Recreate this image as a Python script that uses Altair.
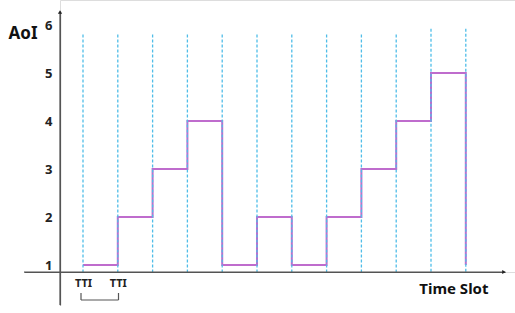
import altair as alt
import pandas as pd

# Data
slots = [0, 1, 2, 3, 4, 5, 6, 7, 8, 9, 10, 11]
dash_tops = [5.8, 5.8, 5.8, 5.8, 5.8, 5.8, 5.8, 5.8, 5.8, 5.8, 5.92, 5.92]
step_x = [0, 1, 2, 3, 4, 5, 6, 7, 8, 9, 10, 11]
aoi_values = [1, 2, 3, 4, 1, 2, 1, 2, 3, 4, 5, 1]
y_ticks = [1, 2, 3, 4, 5, 6]
tti_ticks = [0, 1]

dash_df = pd.DataFrame({"slot": slots, "top": dash_tops})
step_df = pd.DataFrame({"slot": step_x, "aoi": aoi_values})

FONT = "Noto Sans"
AX = "#555555"

xscale = alt.Scale(domain=[-1.6954, 12.1264], range=[-36, 445], nice=False, zero=False)
yscale = alt.Scale(domain=[0.1667, 6.2917], range=[305, 11], nice=False, zero=False)

x_axis = alt.Axis(
    values=tti_ticks, labelExpr="'TTI'", ticks=False, grid=False,
    domainColor=AX, domainWidth=1.2, labelFont=FONT, labelFontSize=11,
    labelFontWeight="bold", labelColor="#222", labelPadding=5,
    title="Time Slot", titleFont=FONT, titleFontSize=15, titleFontWeight="bold",
    titleColor="#111", titleX=428, titleY=21, titleAlign="right",
    titleBaseline="alphabetic", titleAnchor="end",
)
y_axis = alt.Axis(
    values=y_ticks, ticks=False, grid=False, domainColor=AX, domainWidth=1.2,
    labelFont=FONT, labelFontSize=13, labelFontWeight="bold", labelColor="#222",
    labelPadding=8, title="AoI", titleFont=FONT, titleFontSize=17,
    titleFontWeight="bold", titleColor="#111", titleAngle=0, titleX=-52,
    titleY=38, titleAlign="left", titleBaseline="alphabetic",
)

step = alt.Chart(step_df).mark_line(
    interpolate="step-after", color="#B452C4", strokeWidth=2, opacity=0.85
).encode(
    x=alt.X("slot:Q", scale=xscale, axis=x_axis),
    y=alt.Y("aoi:Q", scale=yscale, axis=y_axis),
)

dashes = alt.Chart(dash_df).mark_rule(
    color="#4FBDE8", strokeWidth=1.3, strokeDash=[3, 2]
).encode(
    x=alt.X("slot:Q", scale=xscale),
    y=alt.Y("top:Q", scale=yscale),
    y2=alt.value(272),
)

one = pd.DataFrame({"a": [0]})

y_line = alt.Chart(one).mark_rule(color=AX, strokeWidth=1.2).encode(
    x=alt.value(0), y=alt.value(12), y2=alt.value(305)
)
x_line = alt.Chart(one).mark_rule(color=AX, strokeWidth=1.2).encode(
    x=alt.value(-36), x2=alt.value(443), y=alt.value(272)
)

arrow_up = alt.Chart(one).mark_point(
    shape="triangle-up", filled=True, color="#222", size=18, opacity=1
).encode(x=alt.value(0), y=alt.value(12))

arrow_right = alt.Chart(one).mark_point(
    shape="triangle-right", filled=True, color="#222", size=18, opacity=1
).encode(x=alt.value(444), y=alt.value(272))

bracket_h = alt.Chart(one).mark_rule(color=AX, strokeWidth=1.2).encode(
    x=alt.value(21), x2=alt.value(58.5), y=alt.value(300)
)
bracket_l = alt.Chart(one).mark_rule(color=AX, strokeWidth=1.2).encode(
    x=alt.value(21), y=alt.value(293), y2=alt.value(300)
)
bracket_r = alt.Chart(one).mark_rule(color=AX, strokeWidth=1.2).encode(
    x=alt.value(58.5), y=alt.value(293), y2=alt.value(300)
)

chart = alt.layer(
    step, dashes, y_line, x_line, arrow_up, arrow_right, bracket_h, bracket_l, bracket_r
).properties(
    width=455, height=272,
    autosize=alt.AutoSizeParams(type="none"),
    padding={"left": 60, "top": 0, "right": 0, "bottom": 41},
).configure_view(stroke=None).configure(background="white")

chart.save("out.html", embed_options={"renderer": "svg", "actions": False})
